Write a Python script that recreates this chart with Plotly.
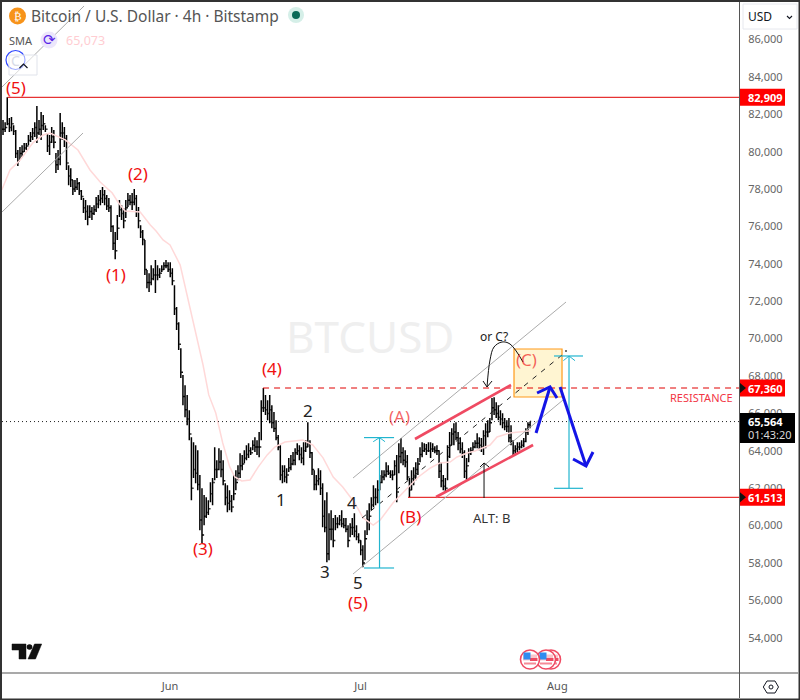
import plotly.graph_objects as go

# Price bars, 8-hour steps. x positions are days counted from 1 May.
first_bar_day = 4.7
bar_step_days = 1 / 3

highs = [
    81690,81580,82909,81800,81850,81420,81160,80090,80250,80350,
    80460,80460,80890,81050,81270,81580,82440,81690,82120,81960,
    81420,81000,80890,81320,81160,79930,80090,82070,81580,81320,
    80890,79280,79120,78480,78480,78590,78380,77950,77520,77410,
    77140,77140,77040,77140,77570,77680,77950,78110,77950,77680,
    77520,77140,76070,75700,76610,77410,77140,76980,77410,77790,
    77680,77790,78000,77680,77040,76070,75810,75270,73670,73500,
    73930,73770,74200,73930,73770,73930,74090,74200,74090,74090,
    73770,72860,71690,70880,69490,68050,67510,66980,66170,64730,
    64460,64300,64030,62700,62000,61630,61520,61360,62320,62540,
    64190,63500,64140,64030,63500,62270,62160,61890,61630,62700,
    62960,63230,63870,63770,64030,64300,64410,64190,64570,64730,
    64570,65000,66710,67360,66980,66710,66980,66440,66070,65640,
    64840,64300,63230,63230,63070,63610,63770,63930,64140,64410,
    64300,64190,64460,64570,65530,64570,63930,62960,62700,63070,
    62960,62270,61360,61790,60660,60820,60400,60560,60450,60560,
    60820,60400,60400,60020,60130,60400,60660,60020,59590,59220,
    58950,59750,60820,61200,61520,62160,62000,62430,62700,62960,
    62960,63390,63230,62960,62960,63500,63770,64410,64680,64190,
    64030,63770,62540,62960,63120,63390,63610,64190,64460,64410,
    64360,64460,64460,64410,64250,64300,64030,63390,62700,62540,
    64300,65000,65210,65480,65530,65000,64730,64460,64030,63610,
    64140,64190,64460,64570,64940,64730,64680,65100,65480,65640,
    65750,66820,66870,66600,66440,66170,66010,65750,65640,65750,
    65370,64570,64300,64460,64460,64570,64680,65210,65530,65564,
]
lows = [
    80890,81050,81420,81050,81100,80890,79660,79230,79550,79710,
    79980,80090,80350,80520,80620,80780,80460,80890,80620,81160,
    81050,79980,79820,80460,80190,78860,79020,79280,80620,80250,
    79020,78210,78110,77680,77840,77950,77680,77410,76720,76340,
    76070,76450,76340,76610,76770,76980,77140,77250,77140,76880,
    76770,75700,74740,74250,75270,76500,76340,75910,76450,77040,
    77140,76880,77140,76500,75910,75380,75000,73400,72700,72490,
    72860,73130,72440,73130,73240,73560,73670,73770,73560,73290,
    72860,71260,70460,69390,67890,66440,65800,65370,64570,61360,
    62540,62270,61890,59750,59060,60020,60400,60560,61250,61090,
    62430,62540,62960,62590,62160,61090,60710,60820,60710,61360,
    61890,62430,62540,62960,63340,63500,63610,63770,64030,63930,
    63770,63660,64570,66070,65910,65640,65480,65210,65000,64570,
    64030,62430,62270,62320,62270,62860,62960,63230,63230,63770,
    63500,63340,63230,63930,64190,63610,62700,61890,61890,62160,
    61630,59910,59640,58040,58150,59220,58840,59750,59860,60020,
    59910,59860,59640,58840,59380,59490,59380,59220,59060,58420,
    57770,58150,59490,59750,60820,60980,61090,61200,61890,62270,
    62430,62590,62700,62540,62430,62700,61250,62800,63340,63230,
    63120,62430,61520,61890,62160,62430,62700,63390,63660,63930,
    63770,63930,63610,63930,63870,63770,62540,62050,61890,61790,
    62430,63610,64300,64300,64570,64030,63870,63610,62540,62430,
    63390,63770,63930,64140,64140,64030,63930,63770,64140,64730,
    65000,65640,65910,65750,65640,65370,65210,65100,65000,64460,
    64300,63770,63770,63930,64030,64140,64190,64460,64840,65210,
]
closes = [
    81200,81300,81500,81300,81500,81100,79900,79500,79900,80000,
    80200,80300,80600,80800,81000,81300,81000,81200,81400,81500,
    81200,80300,80500,80800,80500,79300,79600,81000,81000,80700,
    79400,78700,78500,78000,78100,78300,77900,77600,77000,76800,
    76500,76800,76700,76900,77200,77400,77500,77700,77500,77100,
    77000,76000,75100,74700,75900,76900,76700,76300,77000,77400,
    77300,77300,77500,76800,76300,75700,75300,73700,73000,73000,
    73200,73400,73400,73400,73500,73700,73900,73900,73700,73500,
    73100,71600,70800,69700,68200,66900,66200,65700,64900,62000,
    63000,62800,62200,60300,59500,60500,60700,60900,61700,62300,
    63000,63000,63400,63000,62400,61500,61200,61300,61000,61700,
    62300,62800,63200,63300,63600,63800,64000,63900,64300,64200,
    64200,64200,66300,66300,66200,66000,66200,65500,65200,64700,
    64200,62700,62900,62600,62700,63100,63300,63500,63900,64000,
    63800,63600,64000,64200,64400,63900,63000,62200,62400,62500,
    62000,60500,59900,58500,59800,59800,59200,60100,60100,60300,
    60100,60000,59800,59200,59900,59900,59700,59400,59200,58700,
    58000,59300,60300,60500,61100,61500,61500,61900,62300,62600,
    62700,62900,62800,62700,62700,63200,61800,63700,63900,63500,
    63400,62600,61900,62500,62600,63000,63300,63800,64000,64100,
    64000,64000,64100,64100,64000,64000,62900,62400,62100,62000,
    63700,64300,64900,65000,64700,64400,64100,63900,62900,63200,
    63900,64000,64200,64400,64400,64300,64200,64800,65000,65000,
    65500,66300,66200,66000,65800,65700,65500,65300,65300,64700,
    64500,64000,64100,64200,64200,64300,64500,65000,65400,65564,
]
opens = [closes[0]] + closes[:-1]
bar_days = [first_bar_day + i * bar_step_days for i in range(len(closes))]

# Simple moving average
sma_days = [
    4.5,5.8,7.4,9.4,11.0,12.1,14.5,16.5,18.4,20.0,
    21.9,22.8,23.9,26.3,27.9,28.8,29.9,31.0,32.6,33.5,
    34.5,35.4,36.2,37.1,38.2,39.3,40.4,41.2,42.3,43.6,
    44.9,46.3,47.5,49.1,51.9,53.5,55.1,56.7,58.2,60.1,
    61.4,63.0,64.1,66.1,68.5,70.1,72.0,73.5,75.1,76.2,
    77.8,79.0,81.4,82.5,84.5,87.8,
]
sma_values = [
    77950,79020,79560,80470,80890,81000,80630,80090,79020,78380,
    77790,77310,76830,76770,76080,75760,75280,75010,73940,72600,
    71270,69930,68590,66990,66020,64420,63140,62600,62390,62440,
    63140,63780,64200,64470,64580,64310,63620,62600,62060,61210,
    60410,60030,60300,61210,62060,62600,63080,63350,63400,63670,
    63880,63990,64310,64740,64950,65073,
]

# Axis ticks
price_ticks = list(range(54000, 86001, 2000))
month_days = [31, 61, 92]
month_labels = ["Jun", "Jul", "Aug"]

# Levels
top_level = 82909
resistance_level = 67360
support_level = 61513
last_price = 65564

# Wave counts: label, day, price
red_waves = [
    ("(5)", 6.75, 83460), ("(1)", 22.5, 73450), ("(2)", 25.96, 78810),
    ("(3)", 36.2, 58750), ("(4)", 47.06, 68380), ("(5)", 60.6, 55910),
    ("(B)", 68.8, 60460),
]
pale_waves = [("(A)", 67.2, 65860), ("(C)", 87.2, 68910)]
black_waves = [
    ("1", 48.5, 61420), ("2", 52.7, 66130), ("3", 55.4, 57520),
    ("4", 59.66, 61260), ("5", 60.6, 56980),
]

X_LEFT, X_RIGHT = 4.54, 120.6
Y_LOW, Y_HIGH = 52115, 88007
PLOT_L, PLOT_R, PLOT_T, PLOT_B = 2, 739, 2, 673
FONT = "Noto Sans"


def fx(px):
    """Paper x for a page pixel."""
    return (px - PLOT_L) / (PLOT_R - PLOT_L)


def fy(py):
    """Paper y for a page pixel."""
    return (PLOT_B - py) / (PLOT_B - PLOT_T)


fig = go.Figure()


def segment(days, prices, color, width=1, dash="solid", shape="linear"):
    fig.add_trace(go.Scatter(
        x=days, y=prices, mode="lines", hoverinfo="skip", showlegend=False,
        line=dict(color=color, width=width, dash=dash, shape=shape),
    ))


segment(sma_days, sma_values, "#ffd9d9", 1.5)

fig.add_trace(go.Ohlc(
    x=bar_days, open=opens, high=highs, low=lows, close=closes,
    increasing_line_color="#000000", decreasing_line_color="#000000",
    line_width=1.5, tickwidth=0.5, hoverinfo="skip", showlegend=False,
))

# Horizontal levels
segment([X_LEFT, X_RIGHT], [last_price, last_price], "#222222", 1, "1px,3px")
segment([5.41, X_RIGHT], [top_level, top_level], "#e00000", 1)
segment([45.65, X_RIGHT], [resistance_level, resistance_level], "#e00000", 1, "6px,5px")
segment([68.48, X_RIGHT], [support_level, support_level], "#e00000", 1)

# Channels
GREY = "#ababab"
segment([4.54, 17.46], [83460, 87793], GREY)
segment([4.54, 17.30], [76774, 81000], GREY)
segment([59.82, 93.36], [62546, 71960], GREY)
segment([59.82, 92.89], [57411, 66718], GREY)
segment([61.24, 92.73], [60406, 69125], "#222222", 1, "5px,6px")
fig.add_trace(go.Scatter(x=[93.36], y=[69339], mode="markers", hoverinfo="skip",
                         showlegend=False, marker=dict(size=2, color="#444444")))

# Thick trend lines of the small channel
PINK = "#ef4a62"
segment([69.58, 84.70], [64632, 67520], PINK, 2.6)
segment([72.89, 88.17], [61529, 64311], PINK, 2.6)

# Target range measures
CYAN = "#22b5cf"
segment([63.99, 63.99], [64707, 57732], CYAN, 1.2)
segment([61.55, 66.28], [64707, 64707], CYAN, 1.2)
segment([61.55, 66.28], [57732, 57732], CYAN, 1.2)
segment([63.0, 63.99, 64.86], [64487, 64707, 64487], CYAN, 1)
segment([93.83, 93.83], [69072, 61994], CYAN, 1.2)
segment([91.47, 96.04], [69072, 69072], CYAN, 1.2)
segment([91.47, 96.04], [61994, 61994], CYAN, 1.2)
segment([92.94, 93.83, 94.78], [68820, 69072, 68820], CYAN, 1)

# Projected paths
BLUE = "#1414e6"
segment([88.64, 90.84], [64953, 67413], BLUE, 3)
segment([88.80, 90.84, 91.94], [67092, 67413, 66825], BLUE, 3)
segment([92.42, 96.51], [67413, 63188], BLUE, 3)
segment([94.46, 96.51, 97.61], [63562, 63188, 63936], BLUE, 3)

# Curved pointer and the upward arrow
segment([86.59, 84.54, 83.28, 82.02, 81.39, 80.92],
        [68750, 69713, 69821, 69553, 68858, 67413], "#111111", 1, shape="spline")
segment([80.29, 80.92, 81.71], [67734, 67413, 67734], "#111111", 1)
segment([80.45, 80.45], [61476, 63349], "#111111", 1)
segment([79.82, 80.45, 81.24], [63134, 63349, 63134], "#111111", 1)

shapes = []


def box(x0, y0, x1, y1, fill="rgba(0,0,0,0)", line="rgba(0,0,0,0)", width=0):
    shapes.append(dict(type="rect", xref="paper", yref="paper",
                       x0=fx(x0), x1=fx(x1), y0=fy(y0), y1=fy(y1),
                       fillcolor=fill, line=dict(color=line, width=width)))


def disc(cx, cy, r, fill="rgba(0,0,0,0)", line="rgba(0,0,0,0)", width=0):
    shapes.append(dict(type="circle", xref="paper", yref="paper",
                       x0=fx(cx - r), x1=fx(cx + r), y0=fy(cy + r), y1=fy(cy - r),
                       fillcolor=fill, line=dict(color=line, width=width)))


def outline(points, fill=None, line="#131722", width=1, close=True):
    d = "M " + " L ".join(f"{fx(x):.5f} {fy(y):.5f}" for x, y in points)
    if close:
        d += " Z"
    spec = dict(type="path", xref="paper", yref="paper", path=d,
                line=dict(color=line, width=width))
    if fill:
        spec["fillcolor"] = fill
    shapes.append(spec)


# Target zone rectangle, kept underneath the paths crossing it
shapes.append(dict(type="rect", xref="x", yref="y", x0=85.17, x1=92.73, y0=66879, y1=69446,
                   layer="below", fillcolor="#fff5d2", line=dict(color="#ff9a1a", width=1.2)))

# Window frame and axis separators
box(0, 0, 800, 2, fill="#333333")
box(0, 0, 2, 700, fill="#333333")
box(0, 698.5, 800, 700, fill="#333333")
box(798.5, 0, 800, 700, fill="#333333")
box(2, 672.5, 798, 673.5, fill="#555555")
box(739, 2, 740, 698, fill="#555555")

# Price tags
for level in (top_level, resistance_level, support_level):
    shapes.append(dict(type="rect", xref="paper", yref="y", x0=fx(740), x1=fx(785),
                       y0=level - 455, y1=level + 455, fillcolor="#ff0000", line=dict(width=0)))
for level in (resistance_level, support_level):
    shapes.append(dict(type="path", xref="paper", yref="y",
                       path=f"M {fx(740):.5f} {level + 270} L {fx(746):.5f} {level} L {fx(740):.5f} {level - 270} Z",
                       fillcolor="#111111", line=dict(width=0)))
box(740, 413, 795, 443, fill="#000000")

# Header badges
disc(17.5, 16, 8.5, fill="#f7931a")
disc(49, 40, 8.5, fill="#ece6fb")
disc(296, 15, 8, fill="#d5efe8")
disc(296, 15, 4, fill="#0b6b58")
disc(15.5, 60, 9.5, line="#2f46ff", width=1.2)
box(9, 55, 37, 75, fill="rgba(255,255,255,0.55)", line="#e0e3eb", width=1)
outline([(19.5, 68), (23.5, 64), (27.5, 68)], line="#131722", width=1.2, close=False)

# Currency selector
box(743, 4, 797, 29, fill="#ffffff", line="#e6e8ee", width=1)
outline([(787, 16), (789.5, 18.5), (792, 16)], line="#131722", width=1.1, close=False)

# Settings hexagon
outline([(763.3, 687), (767, 681), (775, 681), (778.5, 687), (775, 693), (767, 693)], width=1)
disc(771, 687, 2, line="#131722", width=1)

# Logo mark
outline([(12, 644), (26, 644), (26, 659), (19, 659), (19, 650), (12, 650)], fill="#111111", line="#111111", width=0.5)
disc(29.5, 647, 2.8, fill="#111111")
outline([(34.5, 644), (41.7, 644), (35.5, 659), (28, 659)], fill="#111111", line="#111111", width=0.5)

# Event flags
for cx in (551, 546, 530):
    disc(cx, 659.5, 9.5, fill="#ffffff", line="#ef4a62", width=1.6)
    box(cx - 7, 654.5, cx + 7, 660.5, fill="#f9c6cc")
    box(cx, 658, cx + 7.5, 661, fill="#ef4a62")
    box(cx - 6, 662.5, cx + 6, 664.5, fill="#f58a97")
    box(cx - 6.5, 652.5, cx + 0.5, 659.5, fill="#2f8cf0")

annotations = []


def label(x, y, text, size, color, anchor="center", ref="paper", family=FONT):
    annotations.append(dict(
        x=fx(x) if ref == "paper" else x, y=fy(y) if ref == "paper" else y,
        xref="paper" if ref == "paper" else "x", yref="paper" if ref == "paper" else "y",
        text=text, showarrow=False, xanchor=anchor, yanchor="middle",
        borderpad=0, borderwidth=0,
        font=dict(family=family, size=size, color=color),
    ))


# Watermark
label(370, 336, "BTCUSD", 44, "#efefef")

for text, day, price in red_waves:
    label(day, price, text, 17, "#f01010", ref="data")
for text, day, price in pale_waves:
    label(day, price, text, 17, "rgba(240,30,30,0.7)", ref="data")
for text, day, price in black_waves:
    label(day, price, text, 17, "#222222", ref="data")

label(82.0, 70140, "or C?", 12, "#222222", ref="data")
label(81.55, 60410, "ALT: B", 13, "#333333", ref="data")
label(701, 397, "RESISTANCE", 11, "#f23645")

# Header text
label(31, 16, "Bitcoin / U.S. Dollar · 4h · Bitstamp", 15.5, "#555555", anchor="left")
label(9, 40, "SMA", 11, "#555555", anchor="left")
label(66, 40, "65,073", 12.5, "#ffcdd2", anchor="left")
label(17.5, 16, "₿", 11, "#ffffff", family="DejaVu Sans")
label(49, 40, "⟳", 15, "#5a25e8", family="DejaVu Sans")
label(15.5, 60, "C", 14, "#d8dbe8")
label(748, 16, "USD", 12, "#131722", anchor="left")

# Price tag captions
for level, text in ((top_level, "82,909"), (resistance_level, "67,360"), (support_level, "61,513")):
    annotations.append(dict(x=fx(748), y=level, xref="paper", yref="y", text=f"<b>{text}</b>",
                            showarrow=False, xanchor="left", yanchor="middle",
                            borderpad=0, borderwidth=0,
                            font=dict(family=FONT, size=11, color="#ffffff")))
label(748, 421, "<b>65,564</b>", 11, "#ffffff", anchor="left")
label(748, 434, "01:43:20", 11, "#d8d8d8", anchor="left")

fig.update_layout(
    width=800, height=700, autosize=False,
    margin=dict(l=PLOT_L, r=800 - PLOT_R, t=PLOT_T, b=700 - PLOT_B),
    paper_bgcolor="#ffffff", plot_bgcolor="rgba(0,0,0,0)",
    font=dict(family=FONT, size=11, color="#555555"),
    showlegend=False, hovermode=False,
    shapes=shapes, annotations=annotations,
    xaxis=dict(
        range=[X_LEFT, X_RIGHT], tickvals=month_days, ticktext=month_labels,
        showgrid=False, zeroline=False, ticks="outside", ticklen=3,
        tickcolor="rgba(0,0,0,0)", rangeslider=dict(visible=False),
        tickfont=dict(family=FONT, size=11, color="#555555"), fixedrange=True,
    ),
    yaxis=dict(
        range=[Y_LOW, Y_HIGH], side="right", tickvals=price_ticks,
        ticktext=[f"{v:,}" for v in price_ticks],
        showgrid=False, zeroline=False, ticks="outside", ticklen=6,
        tickcolor="rgba(0,0,0,0)",
        tickfont=dict(family=FONT, size=11, color="#666666"), fixedrange=True,
    ),
)

fig.write_html("out.html", config={"displayModeBar": False})
